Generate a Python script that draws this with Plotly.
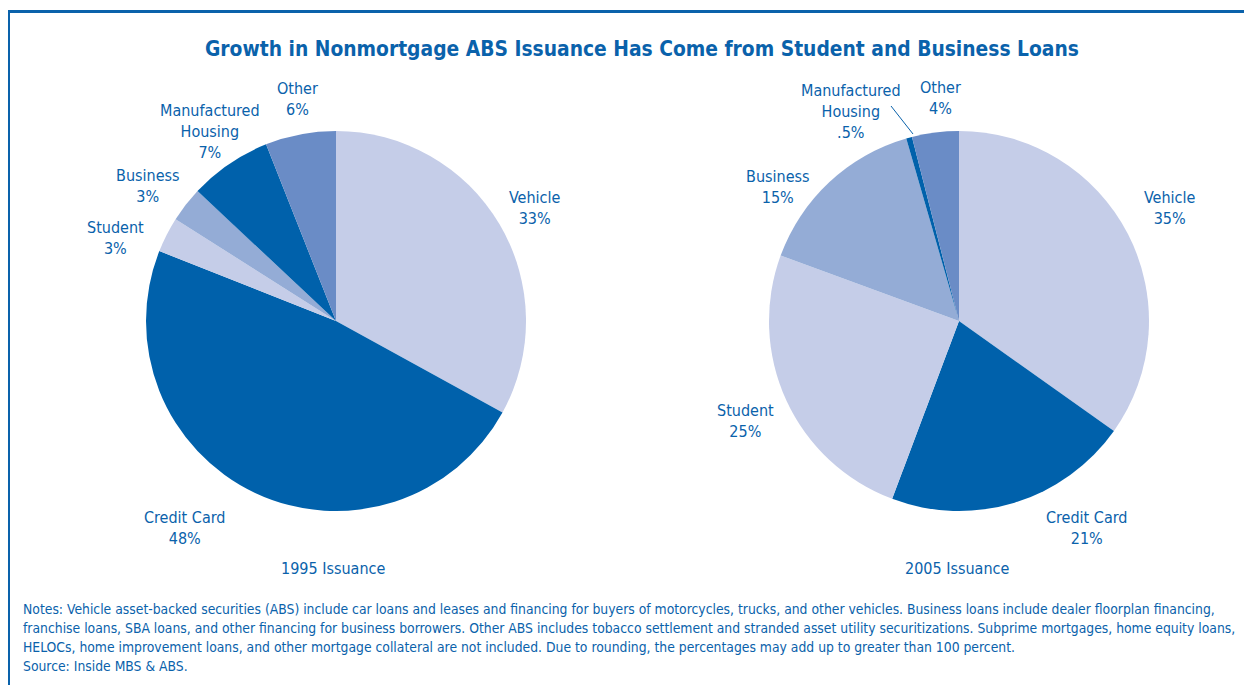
import plotly.graph_objects as go

# ---- data ----
categories = ["Vehicle", "Credit Card", "Student", "Business", "Manufactured Housing", "Other"]
share_1995 = [33, 48, 3, 3, 7, 6]
share_2005 = [35, 21, 25, 15, 0.5, 4]
labels_1995 = ["Vehicle<br>33%", "Credit Card<br>48%", "Student<br>3%", "Business<br>3%",
               "Manufactured<br>Housing<br>7%", "Other<br>6%"]
labels_2005 = ["Vehicle<br>35%", "Credit Card<br>21%", "Student<br>25%", "Business<br>15%",
               "Manufactured<br>Housing<br>.5%", "Other<br>4%"]
pie_titles = ["1995 Issuance", "2005 Issuance"]
title = "Growth in Nonmortgage ABS Issuance Has Come from Student and Business Loans"
note_lines = [
    "Notes: Vehicle asset-backed securities (ABS) include car loans and leases and financing for buyers of motorcycles, trucks, and other vehicles. Business loans include dealer floorplan financing,",
    "franchise loans, SBA loans, and other financing for business borrowers. Other ABS includes tobacco settlement and stranded asset utility securitizations. Subprime mortgages, home equity loans,",
    "HELOCs, home improvement loans, and other mortgage collateral are not included. Due to rounding, the percentages may add up to greater than 100 percent.",
    "Source: Inside MBS &amp; ABS.",
]

# ---- style ----
W, H = 1244, 685
BLUE = "#0a62ab"
colors = ["#c5cde8", "#0061ab", "#c5cde8", "#94acd6", "#0061ab", "#6a8cc6"]
FONT = "Liberation Sans Narrow, DejaVu Sans Condensed, Arial Narrow, sans-serif"

def px(x):
    return x / W

def py(y):
    return 1 - y / H

def domain(cx, cy, r):
    return dict(x=[px(cx - r), px(cx + r)], y=[py(cy + r), py(cy - r)])

fig = go.Figure()
for vals, (cx, cy) in [(share_1995, (336, 321)), (share_2005, (959, 321))]:
    fig.add_trace(go.Pie(
        labels=categories, values=vals, sort=False, direction="clockwise", rotation=0,
        marker=dict(colors=colors, line=dict(width=0)),
        textinfo="none", hoverinfo="label+percent", showlegend=False,
        domain=domain(cx, cy, 190),
    ))

# label positions (pixel centres)
pos_1995 = [(535, 207.5), (184, 527.5), (115, 238), (147, 185.5), (210, 131), (297, 99)]
pos_2005 = [(1170, 207.5), (1086, 527.5), (745, 420.5), (777, 187.5), (851, 111.5), (940, 97.5)]

ann = []
for labs, poss in [(labels_1995, pos_1995), (labels_2005, pos_2005)]:
    for t, (x, y) in zip(labs, poss):
        ann.append(dict(x=px(x), y=py(y), xref="paper", yref="paper", text=t, showarrow=False,
                        xanchor="center", yanchor="middle", align="center",
                        font=dict(family=FONT, size=16, color=BLUE)))
for t, x in zip(pie_titles, [333, 957]):
    ann.append(dict(x=px(x), y=py(568), xref="paper", yref="paper", text=t, showarrow=False,
                    xanchor="center", yanchor="middle",
                    font=dict(family=FONT, size=16, color=BLUE)))

ann.append(dict(x=px(642), y=py(49), xref="paper", yref="paper",
                text="<b>" + title + "</b>",
                showarrow=False, xanchor="center", yanchor="middle",
                font=dict(family=FONT, size=20.8, color=BLUE)))

for i, line in enumerate(note_lines):
    ann.append(dict(x=px(21), y=py(609 + 19 * i), xref="paper", yref="paper", text=line,
                    showarrow=False, xanchor="left", yanchor="middle", align="left",
                    font=dict(family=FONT, size=13.8, color=BLUE)))

shapes = [
    dict(type="line", xref="paper", yref="paper", x0=px(8), x1=1, y0=py(11.5), y1=py(11.5),
         line=dict(color=BLUE, width=3)),
    dict(type="line", xref="paper", yref="paper", x0=px(9), x1=px(9), y0=py(10), y1=0,
         line=dict(color=BLUE, width=2)),
    dict(type="line", xref="paper", yref="paper", x0=px(891), x1=px(913), y0=py(106), y1=py(134),
         line=dict(color=BLUE, width=1)),
]

fig.update_layout(width=W, height=H, margin=dict(l=0, r=0, t=0, b=0),
                  paper_bgcolor="white", plot_bgcolor="white",
                  annotations=ann, shapes=shapes)
fig.write_html("out.html")
